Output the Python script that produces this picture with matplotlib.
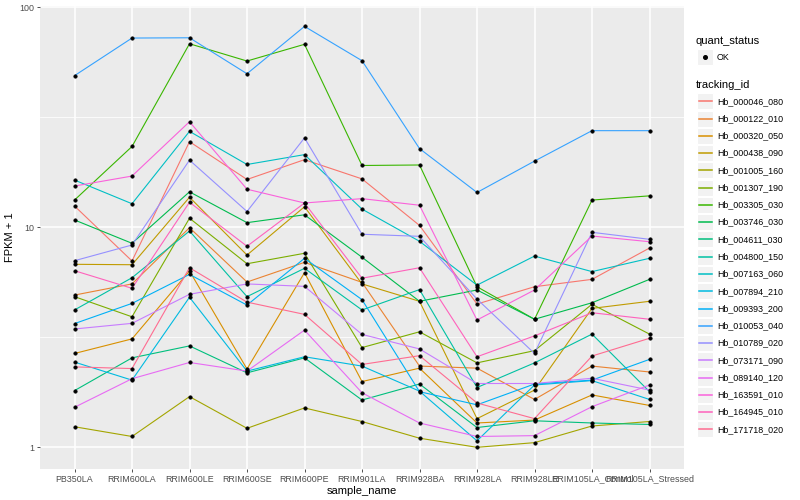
import matplotlib
matplotlib.use("Agg")
import matplotlib.pyplot as plt
from matplotlib.patches import Rectangle
from matplotlib.lines import Line2D
import numpy as np

plt.rcParams['font.family'] = ['Liberation Sans', 'DejaVu Sans']

# ---------------- data (FPKM + 1) ----------------
samples = ["PB350LA", "RRIM600LA", "RRIM600LE", "RRIM600SE", "RRIM600PE",
           "RRIM901LA", "RRIM928BA", "RRIM928LA", "RRIM928LE",
           "RRIM105LA_Control", "RRIM105LA_Stressed"]

tracking_ids = ["Hb_000046_080", "Hb_000122_010", "Hb_000320_050", "Hb_000438_090",
                "Hb_001005_160", "Hb_001307_190", "Hb_003305_030", "Hb_003746_030",
                "Hb_004611_030", "Hb_004800_150", "Hb_007163_060", "Hb_007894_210",
                "Hb_009393_200", "Hb_010053_040", "Hb_010789_020", "Hb_073171_090",
                "Hb_089140_120", "Hb_163591_010", "Hb_164945_010", "Hb_171718_020"]

Hb_000046_080 = [12.5, 7.03, 24.5, 16.5, 20.3, 16.6, 10.2, 4.48, 5.37, 5.80, 8.05]
Hb_000122_010 = [4.92, 5.53, 9.96, 5.64, 6.93, 5.62, 2.34, 2.29, 1.65, 2.34, 2.20]
Hb_000320_050 = [2.67, 3.11, 6.33, 2.27, 6.22, 1.99, 2.29, 1.29, 1.33, 1.73, 1.55]
Hb_000438_090 = [6.79, 6.76, 13.7, 7.48, 12.4, 5.53, 4.61, 1.35, 1.82, 4.28, 4.61]
Hb_001005_160 = [1.24, 1.12, 1.70, 1.22, 1.51, 1.31, 1.10, 1.00, 1.05, 1.25, 1.31]
Hb_001307_190 = [4.84, 3.92, 11.0, 6.83, 7.62, 2.84, 3.35, 2.42, 2.75, 4.47, 3.27]
Hb_003305_030 = [13.3, 23.3, 68.3, 57.0, 67.9, 19.1, 19.2, 5.37, 3.82, 13.3, 13.9]
Hb_003746_030 = [10.8, 8.46, 14.5, 10.5, 11.4, 7.31, 4.61, 5.19, 3.82, 4.54, 5.80]
Hb_004611_030 = [1.81, 2.55, 2.89, 2.18, 2.55, 1.64, 1.94, 1.23, 1.32, 1.29, 1.27]
Hb_004800_150 = [4.21, 5.90, 9.62, 4.84, 6.51, 4.21, 5.21, 1.87, 2.42, 3.27, 1.79]
Hb_007163_060 = [16.4, 12.8, 27.3, 19.3, 21.4, 12.1, 8.64, 5.46, 7.40, 6.29, 7.23]
Hb_007894_210 = [2.44, 2.02, 4.81, 2.22, 2.58, 2.34, 1.80, 1.07, 1.92, 2.01, 1.65]
Hb_009393_200 = [3.65, 4.51, 6.11, 4.43, 7.23, 4.69, 1.79, 1.56, 1.94, 2.02, 2.51]
Hb_010053_040 = [48.9, 72.5, 72.7, 49.9, 81.9, 57.2, 22.8, 14.4, 20.0, 27.5, 27.5]
Hb_010789_020 = [7.05, 8.31, 20.2, 11.8, 25.5, 9.30, 9.10, 4.72, 2.67, 9.49, 8.82]
Hb_073171_090 = [3.45, 3.66, 4.96, 5.53, 5.39, 3.26, 2.80, 1.95, 1.95, 2.06, 1.82]
Hb_089140_120 = [1.52, 2.05, 2.43, 2.22, 3.41, 1.77, 1.29, 1.12, 1.13, 1.53, 1.92]
Hb_163591_010 = [15.4, 17.1, 30.2, 14.9, 12.9, 13.5, 12.6, 3.79, 5.19, 9.13, 8.60]
Hb_164945_010 = [6.35, 5.28, 13.0, 8.20, 12.9, 5.87, 6.55, 2.58, 3.21, 4.09, 3.82]
Hb_171718_020 = [2.32, 2.28, 6.55, 4.57, 4.02, 2.38, 2.61, 1.59, 1.35, 2.60, 3.13]

series = [Hb_000046_080, Hb_000122_010, Hb_000320_050, Hb_000438_090, Hb_001005_160,
          Hb_001307_190, Hb_003305_030, Hb_003746_030, Hb_004611_030, Hb_004800_150,
          Hb_007163_060, Hb_007894_210, Hb_009393_200, Hb_010053_040, Hb_010789_020,
          Hb_073171_090, Hb_089140_120, Hb_163591_010, Hb_164945_010, Hb_171718_020]

colors = ["#F8766D", "#EA8331", "#D89000", "#C09B00", "#A3A500", "#7CAE00", "#39B600",
          "#00BB4E", "#00BF7D", "#00C1A3", "#00BFC4", "#00BAE0", "#00B0F6", "#35A2FF",
          "#9590FF", "#C77CFF", "#E76BF3", "#FA62DB", "#FF62BC", "#FF6C91"]

# ---------------- figure ----------------
W, H = 800, 500
fig = plt.figure(figsize=(8, 5), dpi=100)
fig.patch.set_facecolor("white")

def fx(x):
    return x / W

def fy(y):
    return 1 - y / H

pl, pr, pt, pb = 40, 684, 6, 469
ax = fig.add_axes([fx(pl), fy(pb), fx(pr) - fx(pl), fy(pt) - fy(pb)])
ax.set_facecolor("#EBEBEB")
for s in ax.spines.values():
    s.set_visible(False)

x = np.arange(len(samples))
ax.set_yscale("log")
ax.set_ylim(10 ** -0.0986, 10 ** 2.006)
ax.set_xlim(-0.6, len(samples) - 1 + 0.6)

# grid
for v in [10 ** 0.5, 10 ** 1.5]:
    ax.axhline(v, color="white", lw=0.55, zorder=0.5)
for v in [1, 10, 100]:
    ax.axhline(v, color="white", lw=1.1, zorder=0.6)
for xi in x:
    ax.axvline(xi, color="white", lw=1.1, zorder=0.6)

for vals, c in zip(series, colors):
    ax.plot(x, vals, color=c, lw=0.8, zorder=2, solid_capstyle="butt")
for vals in series:
    ax.plot(x, vals, ls="none", marker="o", ms=2.6, mfc="black", mec="black", mew=0.3, zorder=3)

ax.set_xticks(x)
ax.set_xticklabels(samples)
ax.set_yticks([1, 10, 100])
ax.set_yticklabels(["1", "10", "100"])
ax.yaxis.set_minor_locator(matplotlib.ticker.NullLocator())
ax.tick_params(axis="both", which="major", length=2.5, width=0.6, color="#333333",
               labelsize=6.4, labelcolor="#4D4D4D", pad=1.5)

ax.set_xlabel("sample_name", fontsize=8, color="black", labelpad=2)
ax.set_ylabel("FPKM + 1", fontsize=8, color="black", labelpad=3)

# ---------------- legend (drawn manually, ggplot style) ----------------
fig.text(fx(696), fy(41), "quant_status", fontsize=8, va="center", ha="left")
key_w, key_h = 16, 16
def key_box(cy):
    r = Rectangle((fx(697), fy(cy + key_h / 2)), fx(key_w), key_h / H,
                  transform=fig.transFigure, facecolor="#F2F2F2", edgecolor="white",
                  lw=0.8, zorder=1)
    fig.patches.append(r)

key_box(57)
fig.lines.append(Line2D([fx(705)], [fy(57)], transform=fig.transFigure, marker="o",
                        ms=2.6, color="black", ls="none", zorder=3))
fig.text(fx(717), fy(57), "OK", fontsize=6.4, va="center", ha="left")

fig.text(fx(696), fy(84.5), "tracking_id", fontsize=8, va="center", ha="left")
step = 17.27
for i, (tid, c) in enumerate(zip(tracking_ids, colors)):
    cy = 101.3 + step * i
    key_box(cy)
    fig.lines.append(Line2D([fx(698.5), fx(711.5)], [fy(cy), fy(cy)], transform=fig.transFigure,
                            color=c, lw=1.1, zorder=3))
    fig.text(fx(717), fy(cy), tid, fontsize=6.4, va="center", ha="left")

fig.savefig("out.png", dpi=100)
